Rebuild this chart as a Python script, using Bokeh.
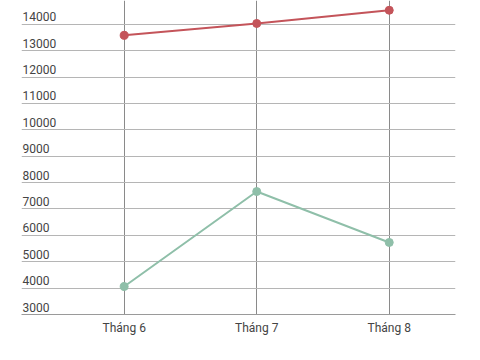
from bokeh.plotting import figure
from bokeh.models import ColumnDataSource, Range1d, FixedTicker
from bokeh.core.properties import value
from bokeh.embed import file_html
from bokeh.resources import INLINE

months = ["Tháng 6", "Tháng 7", "Tháng 8"]
series_red = [13580, 14030, 14530]
series_green = [4060, 7660, 5730]
y_ticks = [3000, 4000, 5000, 6000, 7000, 8000, 9000, 10000, 11000, 12000, 13000, 14000]

xs = list(range(len(months)))
x_start, x_end = -0.775, 2.5

p = figure(width=480, height=360, output_backend="svg", toolbar_location=None,
           x_range=Range1d(x_start, x_end), y_range=Range1d(3000, 14900),
           min_border_left=21, min_border_right=25, min_border_top=0, min_border_bottom=46)
p.outline_line_color = None
p.background_fill_color = "white"

p.yaxis.visible = False
p.ygrid.ticker = FixedTicker(ticks=y_ticks)
p.ygrid.grid_line_color = "#b5b5b5"
p.ygrid.grid_line_width = 1

p.xaxis.ticker = FixedTicker(ticks=xs)
p.xaxis.major_label_overrides = {i: m for i, m in enumerate(months)}
p.xaxis.major_tick_line_color = None
p.xaxis.minor_tick_line_color = None
p.xaxis.axis_line_color = "#9a9a9a"
p.xaxis.major_label_standoff = 0
p.xaxis.major_label_text_font = "Roboto"
p.xaxis.major_label_text_font_size = "12px"
p.xaxis.major_label_text_color = "#444444"
p.xgrid.ticker = FixedTicker(ticks=xs)
p.xgrid.grid_line_color = "#8a8a8a"
p.xgrid.grid_line_width = 1

src_t = ColumnDataSource(dict(x=[x_start] * len(y_ticks), y=y_ticks, t=[str(v) for v in y_ticks]))
p.text(x="x", y="y", text="t", source=src_t, text_font=value("Roboto"),
       text_font_size="12px", text_color="#444444", text_baseline="bottom",
       text_align="left", x_offset=1, y_offset=-3)

red = "#c4545a"
green = "#8fbfa9"
p.line(xs, series_red, line_color=red, line_width=2)
p.scatter(xs, series_red, size=8, fill_color=red, line_color=red)
p.line(xs, series_green, line_color=green, line_width=2)
p.scatter(xs, series_green, size=8, fill_color=green, line_color=green)

open("out.html", "w").write(file_html(p, INLINE))
